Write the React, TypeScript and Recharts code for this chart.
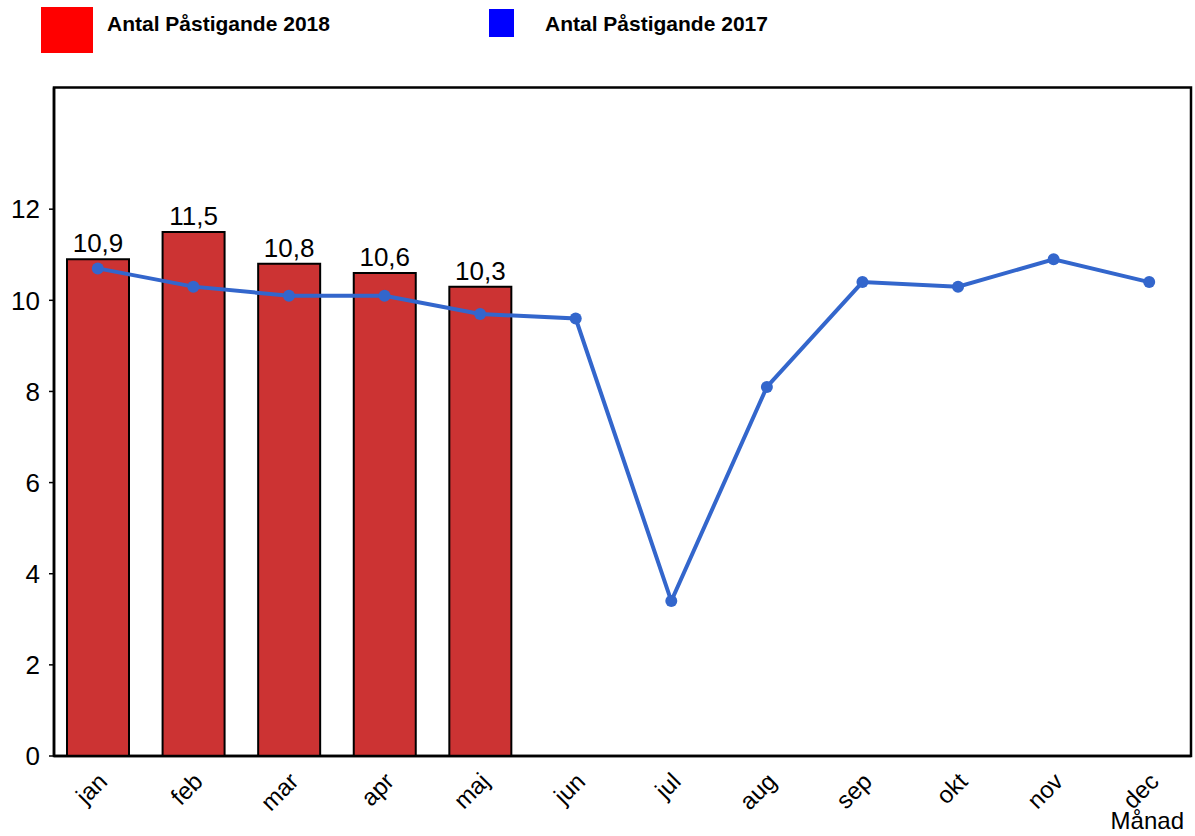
import React from "react";
import {
  Bar,
  ComposedChart,
  LabelList,
  Legend,
  Line,
  ReferenceArea,
  XAxis,
  YAxis
} from "recharts";

const months = ["jan", "feb", "mar", "apr", "maj", "jun", "jul", "aug", "sep", "okt", "nov", "dec"];
const values2018 = [10.9, 11.5, 10.8, 10.6, 10.3];
const values2017 = [10.7, 10.3, 10.1, 10.1, 9.7, 9.6, 3.4, 8.1, 10.4, 10.3, 10.9, 10.4];
const yTicks = [0, 2, 4, 6, 8, 10, 12];
const yMax = 14.67;

const data = months.map((m, i) => ({
  month: m,
  y2018: values2018[i] ?? null,
  y2017: values2017[i]
}));

const FONT = "'Liberation Sans', Arial, sans-serif";

const MonthTick = (props: any) => {
  const { x, y, payload } = props;
  return (
    <g transform={`translate(${x + 5},${y + 13})`}>
      <text
        textAnchor="end"
        transform="rotate(-45)"
        dy="0.35em"
        fontSize={24}
        fontFamily={FONT}
        fill="#000"
      >
        {payload.value}
      </text>
    </g>
  );
};

const LegendBox = () => (
  <div style={{ position: "relative", width: 1195, height: 60, fontFamily: FONT }}>
    <div style={{ position: "absolute", left: 41, top: 7, width: 52, height: 46, background: "#ff0000" }} />
    <div style={{ position: "absolute", left: 107, top: 12, fontSize: 21, fontWeight: "bold" }}>
      Antal Påstigande 2018
    </div>
    <div style={{ position: "absolute", left: 489, top: 9, width: 25, height: 28, background: "#0000ff" }} />
    <div style={{ position: "absolute", left: 545, top: 12, fontSize: 21, fontWeight: "bold" }}>
      Antal Påstigande 2017
    </div>
  </div>
);

export default function App() {
  return (
    <div style={{ position: "absolute", left: 0, top: 0, width: 1195, height: 836, background: "#fff" }}>
      <ComposedChart
        width={1195}
        height={836}
        data={data}
        margin={{ top: 27.5, right: 4, left: 0, bottom: 0 }}
        barCategoryGap={0}
      >
        <Legend
          verticalAlign="top"
          align="left"
          content={<LegendBox />}
          wrapperStyle={{ left: 0, top: 0, width: 1195, height: 60 }}
        />
        <XAxis
          dataKey="month"
          height={80}
          padding={{ left: -4, right: -6 }}
          tickLine={false}
          interval={0}
          tick={<MonthTick />}
          axisLine={{ stroke: "#000", strokeWidth: 2.5 }}
          label={{
            value: "Månad",
            position: "insideBottomRight",
            offset: 7,
            fontSize: 24,
            fontFamily: FONT,
            fill: "#000"
          }}
        />
        {/* unpadded hidden axis, only used to frame the plot area */}
        <XAxis xAxisId="frame" dataKey="month" hide />
        <YAxis
          width={54}
          domain={[0, yMax]}
          ticks={yTicks}
          tickSize={5}
          tickMargin={9}
          tick={{ fontSize: 26, fontFamily: FONT, fill: "#000" }}
          tickLine={{ stroke: "#000", strokeWidth: 1.5 }}
          axisLine={{ stroke: "#000", strokeWidth: 2.5 }}
        />
        <ReferenceArea
          xAxisId="frame"
          y1={0}
          y2={yMax}
          fill="none"
          fillOpacity={0}
          stroke="#000"
          strokeWidth={2.5}
          ifOverflow="visible"
        />
        <Bar
          dataKey="y2018"
          barSize={62}
          fill="#cc3333"
          stroke="#000"
          strokeWidth={2}
          isAnimationActive={false}
        >
          <LabelList
            dataKey="y2018"
            position="top"
            offset={7}
            formatter={(v: any) => (v == null ? "" : String(v).replace(".", ","))}
            style={{ fontSize: 26, fontFamily: FONT, fill: "#000" }}
          />
        </Bar>
        <Line
          dataKey="y2017"
          stroke="#3366cc"
          strokeWidth={4}
          dot={{ r: 6, fill: "#3366cc", stroke: "none" }}
          isAnimationActive={false}
        />
      </ComposedChart>
    </div>
  );
}
